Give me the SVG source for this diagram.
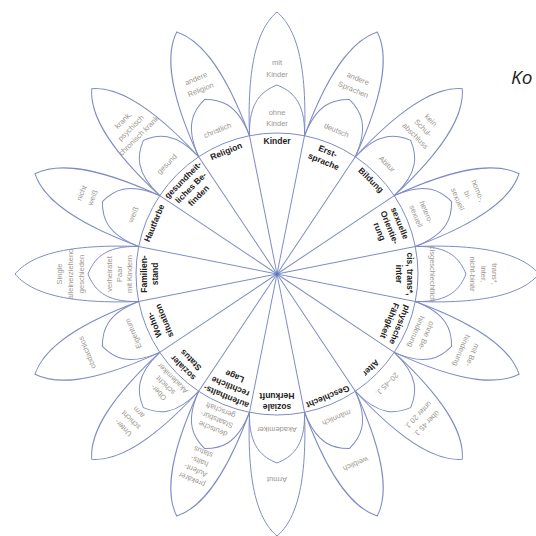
<svg xmlns="http://www.w3.org/2000/svg" width="536" height="536" viewBox="0 0 536 536">
<style>
.ln{fill:none;stroke:#7f8cc4;stroke-width:1}
.bk{font-family:"Liberation Sans",Arial,sans-serif;font-size:8.5px;font-weight:bold;fill:#222;text-anchor:middle}
.gr{font-family:"Liberation Sans",Arial,sans-serif;font-size:7.5px;fill:#9c978f;text-anchor:middle}
.ko{font-family:"Open Sans","Noto Sans",sans-serif;font-size:19px;font-style:italic;fill:#222}
</style>
<defs>
<path id="outer" class="ln" d="M27.5,-138.3 C30.5,-218.3 16,-248.3 0,-262 C-16,-248.3 -30.5,-218.3 -27.5,-138.3"/>
<path id="arch" class="ln" d="M27.5,-138.3 C28.5,-173.3 14,-183.3 0,-189 C-14,-183.3 -28.5,-173.3 -27.5,-138.3"/>
<path id="spoke" class="ln" d="M0,0 L27.5,-138.3"/>
<radialGradient id="dot"><stop offset="0" stop-color="#3b5ea8"/><stop offset="1" stop-color="#a9c0e8" stop-opacity="0.3"/></radialGradient>
</defs>
<rect width="536" height="536" fill="#fff"/>
<g transform="translate(277 274)">
<g id="connectors">
<circle class="ln" cx="0" cy="0" r="141"/>
<use href="#spoke"/>
<use href="#spoke" transform="rotate(22.5)"/>
<use href="#spoke" transform="rotate(45)"/>
<use href="#spoke" transform="rotate(67.5)"/>
<use href="#spoke" transform="rotate(90)"/>
<use href="#spoke" transform="rotate(112.5)"/>
<use href="#spoke" transform="rotate(135)"/>
<use href="#spoke" transform="rotate(157.5)"/>
<use href="#spoke" transform="rotate(180)"/>
<use href="#spoke" transform="rotate(202.5)"/>
<use href="#spoke" transform="rotate(225)"/>
<use href="#spoke" transform="rotate(247.5)"/>
<use href="#spoke" transform="rotate(270)"/>
<use href="#spoke" transform="rotate(292.5)"/>
<use href="#spoke" transform="rotate(315)"/>
<use href="#spoke" transform="rotate(337.5)"/>
</g>
<g id="p-kinder">
<use href="#outer"/><use href="#arch"/>
<text class="bk" y="-130">Kinder</text>
<text class="gr" y="-159">ohne</text><text class="gr" y="-148">Kinder</text>
<text class="gr" y="-209">mit</text><text class="gr" y="-197">Kinder</text>
</g>
<g id="p-erstsprache" transform="rotate(22.5)">
<use href="#outer"/><use href="#arch"/>
<text class="bk" y="-130">Erst-</text><text class="bk" y="-119">sprache</text>
<text class="gr" y="-153">deutsch</text>
<text class="gr" y="-209">andere</text><text class="gr" y="-197">Sprachen</text>
</g>
<g id="p-bildung" transform="rotate(45)">
<use href="#outer"/><use href="#arch"/>
<text class="bk" y="-130">Bildung</text>
<text class="gr" y="-153">Abitur</text>
<text class="gr" y="-215">kein</text><text class="gr" y="-204">Schul-</text><text class="gr" y="-193">abschluss</text>
</g>
<g id="p-orientierung" transform="rotate(67.5)">
<use href="#outer"/><use href="#arch"/>
<text class="bk" y="-130">sexuelle</text><text class="bk" y="-119">Orientie-</text><text class="bk" y="-108">rung</text>
<text class="gr" y="-159">hetero-</text><text class="gr" y="-148">sexuell</text>
<text class="gr" y="-215">homo-,</text><text class="gr" y="-204">bi-</text><text class="gr" y="-193">sexuell</text>
</g>
<g id="p-cis" transform="rotate(90)">
<use href="#outer"/><use href="#arch"/>
<text class="bk" y="-130">cis, trans*,</text><text class="bk" y="-119">inter</text>
<text class="gr" y="-153">cisgeschlechtlich</text>
<text class="gr" y="-215">trans*,</text><text class="gr" y="-204">inter,</text><text class="gr" y="-193">nicht-binär</text>
</g>
<g id="p-faehigkeit" transform="rotate(112.5)">
<use href="#outer"/><use href="#arch"/>
<text class="bk" y="-130">physische</text><text class="bk" y="-119">Fähigkeit</text>
<text class="gr" y="-159">ohne Be-</text><text class="gr" y="-148">hinderung</text>
<text class="gr" y="-209">mit Be-</text><text class="gr" y="-197">hinderung</text>
</g>
<g id="p-alter" transform="rotate(135)">
<use href="#outer"/><use href="#arch"/>
<text class="bk" y="-130">Alter</text>
<text class="gr" y="-153">20–45 J.</text>
<text class="gr" y="-209">über 45 J.</text><text class="gr" y="-197">unter 20 J.</text>
</g>
<g id="p-geschlecht" transform="rotate(157.5)">
<use href="#outer"/><use href="#arch"/>
<text class="bk" y="-130">Geschlecht</text>
<text class="gr" y="-153">männlich</text>
<text class="gr" y="-203">weiblich</text>
</g>
<g id="p-herkunft" transform="rotate(180)">
<use href="#outer"/><use href="#arch"/>
<text class="bk" y="-130">soziale</text><text class="bk" y="-119">Herkunft</text>
<text class="gr" y="-153">Akademiker</text>
<text class="gr" y="-203">Armut</text>
</g>
<g id="p-aufenthalt" transform="rotate(202.5)">
<use href="#outer"/><use href="#arch"/>
<text class="bk" y="-130">aufenthalts-</text><text class="bk" y="-119">rechtliche</text><text class="bk" y="-108">Lage</text>
<text class="gr" y="-165">deutsche</text><text class="gr" y="-155">Staatsbür-</text><text class="gr" y="-145">gerschaft</text>
<text class="gr" y="-220">prekärer</text><text class="gr" y="-210">Aufent-</text><text class="gr" y="-200">halts-</text><text class="gr" y="-190">status</text>
</g>
<g id="p-status" transform="rotate(225)">
<use href="#outer"/><use href="#arch"/>
<text class="bk" y="-130">sozialer</text><text class="bk" y="-119">Status</text>
<text class="gr" y="-165">Ober-</text><text class="gr" y="-155">schicht</text><text class="gr" y="-145">Akademiker</text>
<text class="gr" y="-215">Unter-</text><text class="gr" y="-204">schicht</text><text class="gr" y="-193">arm</text>
</g>
<g id="p-wohnen" transform="rotate(247.5)">
<use href="#outer"/><use href="#arch"/>
<text class="bk" y="-130">Wohn-</text><text class="bk" y="-119">situation</text>
<text class="gr" y="-153">Eigentum</text>
<text class="gr" y="-203">obdachlos</text>
</g>
<g id="p-familienstand" transform="rotate(270)">
<use href="#outer"/><use href="#arch"/>
<text class="bk" y="-130">Familien-</text><text class="bk" y="-119">stand</text>
<text class="gr" y="-165">verheiratet</text><text class="gr" y="-155">Paar</text><text class="gr" y="-145">mit Kindern</text>
<text class="gr" y="-215">Single</text><text class="gr" y="-204">alleinerziehend</text><text class="gr" y="-193">geschieden</text>
</g>
<g id="p-hautfarbe" transform="rotate(292.5)">
<use href="#outer"/><use href="#arch"/>
<text class="bk" y="-130">Hautfarbe</text>
<text class="gr" y="-153">weiß</text>
<text class="gr" y="-209">nicht</text><text class="gr" y="-197">weiß</text>
</g>
<g id="p-gesundheit" transform="rotate(315)">
<use href="#outer"/><use href="#arch"/>
<text class="bk" y="-130">gesundheit-</text><text class="bk" y="-119">liches Be-</text><text class="bk" y="-108">finden</text>
<text class="gr" y="-153">gesund</text>
<text class="gr" y="-215">krank,</text><text class="gr" y="-204">psychisch</text><text class="gr" y="-193">chronisch krank</text>
</g>
<g id="p-religion" transform="rotate(337.5)">
<use href="#outer"/><use href="#arch"/>
<text class="bk" y="-130">Religion</text>
<text class="gr" y="-153">christlich</text>
<text class="gr" y="-209">andere</text><text class="gr" y="-197">Religion</text>
</g>
<circle id="center" r="4" fill="url(#dot)"/>
</g>
<text id="ko" class="ko" x="511" y="84">Ko</text>
</svg>
